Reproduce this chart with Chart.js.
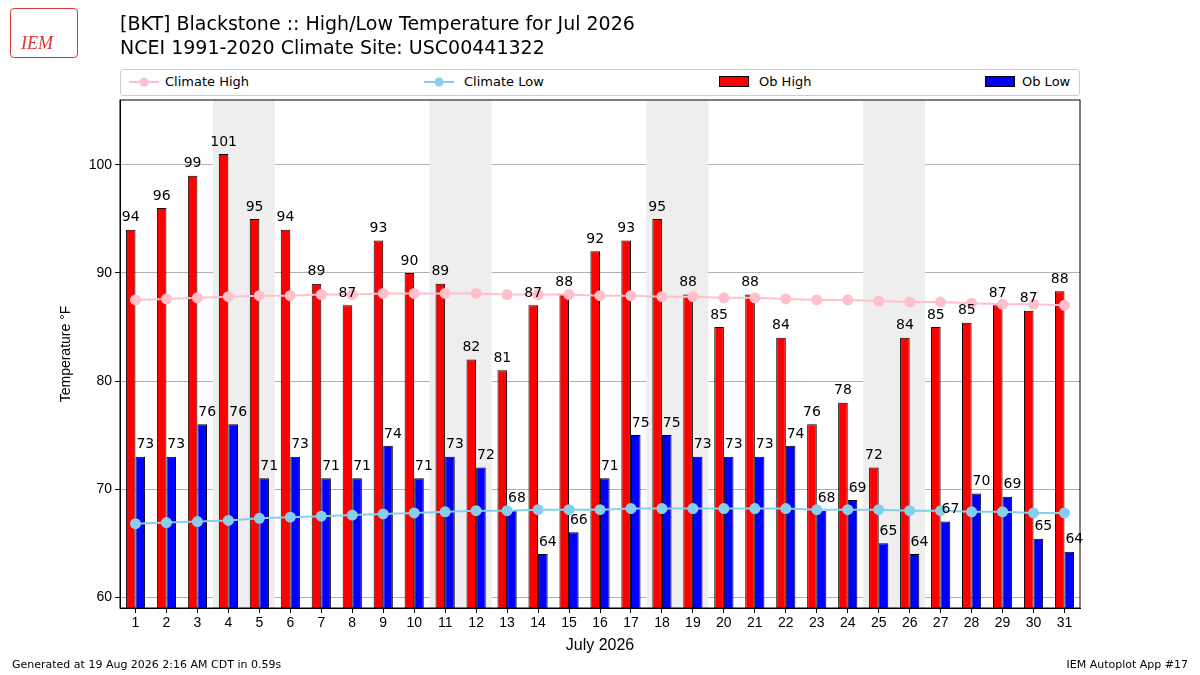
<!DOCTYPE html>
<html>
<head>
<meta charset="utf-8">
<script src="https://cdn.jsdelivr.net/npm/chart.js@4/dist/chart.umd.min.js"></script>
<style>
body { margin:0; background:#fff; font-family:"DejaVu Sans", sans-serif; }
#wrap { position:relative; width:1200px; height:675px; }
canvas { position:absolute; left:0; top:0; }
.t { position:absolute; color:#000; white-space:nowrap; }
#legend { position:absolute; left:120px; top:69px; width:958px; height:25px; border:1px solid #ccc; border-radius:3px; font-size:13px; background:#fff; }
#legend span { position:absolute; top:4px; }
.logo { position:absolute; left:10px; top:8px; width:66px; height:48px; border:1px solid #d33; border-radius:4px; color:#d33; font:italic 18px "Liberation Serif", serif; }
</style>
</head>
<body>
<div id="wrap">
<canvas id="myChart" width="1200" height="675"></canvas>
<div class="logo"><span style="position:absolute;left:10px;top:24px">IEM</span></div>
<div class="t" style="left:120px;top:12px;font-size:19px">[BKT] Blackstone :: High/Low Temperature for Jul 2026</div>
<div class="t" style="left:120px;top:36px;font-size:19px">NCEI 1991-2020 Climate Site: USC00441322</div>
<div id="legend">
  <svg style="position:absolute;left:8px;top:6px" width="30" height="12"><line x1="0" y1="6" x2="30" y2="6" stroke="pink" stroke-width="2"/><circle cx="15" cy="6" r="4.5" fill="pink"/></svg>
  <span style="left:44px">Climate High</span>
  <svg style="position:absolute;left:303px;top:6px" width="30" height="12"><line x1="0" y1="6" x2="30" y2="6" stroke="skyblue" stroke-width="2"/><circle cx="15" cy="6" r="4.5" fill="skyblue"/></svg>
  <span style="left:343px">Climate Low</span>
  <div style="position:absolute;left:598px;top:6px;width:28px;height:9px;background:red;border:1px solid #000"></div>
  <span style="left:638px">Ob High</span>
  <div style="position:absolute;left:864px;top:6px;width:28px;height:9px;background:blue;border:1px solid #000"></div>
  <span style="left:901px">Ob Low</span>
</div>
<div class="t" style="left:12px;top:658px;font-size:11px">Generated at 19 Aug 2026 2:16 AM CDT in 0.59s</div>
<div class="t" style="right:12px;top:658px;font-size:11px">IEM Autoplot App #17</div>
</div>
<script>
const days = [];
for (let d = 1; d <= 31; d++) days.push(String(d));
const obHigh = [94,96,99,101,95,94,89,87,93,90,89,82,81,87,88,92,93,95,88,85,88,84,76,78,72,84,85,85.4,87,86.5,88.3];
const obLow = [73,73,76,76,71,73,71,71,74,71,73,72,68,64,66,71,75,75,73,73,73,74,68,69,65,64,67,69.6,69.3,65.4,64.2];
const climHigh = [87.5,87.6,87.7,87.8,87.9,87.9,88.0,88.0,88.1,88.1,88.1,88.1,88.0,88.0,88.0,87.9,87.9,87.8,87.8,87.7,87.7,87.6,87.5,87.5,87.4,87.3,87.3,87.2,87.1,87.1,87.0];
const climLow = [66.8,66.9,67.0,67.1,67.3,67.4,67.5,67.6,67.7,67.8,67.9,68.0,68.0,68.1,68.1,68.1,68.2,68.2,68.2,68.2,68.2,68.2,68.1,68.1,68.1,68.0,68.0,67.9,67.9,67.8,67.8];
const yTicks = [60, 70, 80, 90, 100];
const weekends = [[4,5],[11,12],[18,19],[25,26]];

// grey bands behind weekends
const shade = {
  id: 'shade',
  beforeDatasetsDraw(chart) {
    const {ctx, chartArea, scales} = chart;
    ctx.save();
    ctx.fillStyle = '#eeeeee';
    weekends.forEach(w => {
      const x1 = scales.x.getPixelForValue(w[0] - 1) - 15.5;
      const x2 = scales.x.getPixelForValue(w[1] - 1) + 15.5;
      ctx.fillRect(x1, chartArea.top, x2 - x1, chartArea.bottom - chartArea.top);
    });
    ctx.restore();
  }
};

// numbers on top of the bars, plus the frame
const barLabels = {
  id: 'barLabels',
  afterDatasetsDraw(chart) {
    const ctx = chart.ctx;
    const a = chart.chartArea;
    ctx.save();
    ctx.strokeStyle = '#000';
    ctx.lineWidth = 1;
    ctx.strokeRect(a.left, a.top, a.right - a.left, a.bottom - a.top);
    ctx.font = '14px "DejaVu Sans"';
    ctx.fillStyle = '#000';
    ctx.textAlign = 'center';
    ctx.textBaseline = 'bottom';
    [2, 3].forEach(i => {
      chart.getDatasetMeta(i).data.forEach((bar, j) => {
        const v = chart.data.datasets[i].data[j];
        ctx.fillText(Math.round(v), bar.x + (i == 3 ? 5 : 0), bar.y - 5);
      });
    });
    ctx.restore();
  }
};

const ctx = document.getElementById('myChart').getContext('2d');
new Chart(ctx, {
  type: 'bar',
  data: {
    labels: days,
    datasets: [
      { type: 'line', label: 'Climate High', data: climHigh, borderColor: 'pink', backgroundColor: 'pink', pointRadius: 4.5, borderWidth: 2, order: 0 },
      { type: 'line', label: 'Climate Low', data: climLow, borderColor: 'skyblue', backgroundColor: 'skyblue', pointRadius: 4.5, borderWidth: 2, order: 0 },
      { label: 'Ob High', data: obHigh, backgroundColor: 'red', borderColor: '#000', borderWidth: 1, order: 1, barPercentage: 1, categoryPercentage: 0.62 },
      { label: 'Ob Low', data: obLow, backgroundColor: 'blue', borderColor: '#000', borderWidth: 1, order: 1, barPercentage: 1, categoryPercentage: 0.62 }
    ]
  },
  options: {
    responsive: false,
    animation: false,
    layout: { padding: { top: 100, right: 120, left: 58, bottom: 20 } },
    plugins: { legend: { display: false }, tooltip: { enabled: false } },
    scales: {
      x: {
        grid: { drawOnChartArea: false, offset: false, tickColor: '#000', tickLength: 5 },
        border: { color: '#000' },
        ticks: { color: '#000', font: { size: 14 }, maxRotation: 0, padding: 2 },
        title: { display: true, text: 'July 2026', color: '#000', font: { size: 16 }, padding: 0 },
        afterFit(s) { s.height = 47; }
      },
      y: {
        min: 59, max: 106,
        grid: { color: '#b0b0b0', tickColor: '#000', tickLength: 5 },
        border: { color: '#000' },
        ticks: { color: '#000', font: { size: 14 } },
        afterBuildTicks(s) { s.ticks = yTicks.map(v => ({ value: v })); },
        title: { display: true, text: 'Temperature °F', color: '#000', font: { size: 14 }, padding: 0 },
        afterFit(s) { s.width = 62; }
      }
    }
  },
  plugins: [shade, barLabels]
});
</script>
</body>
</html>
